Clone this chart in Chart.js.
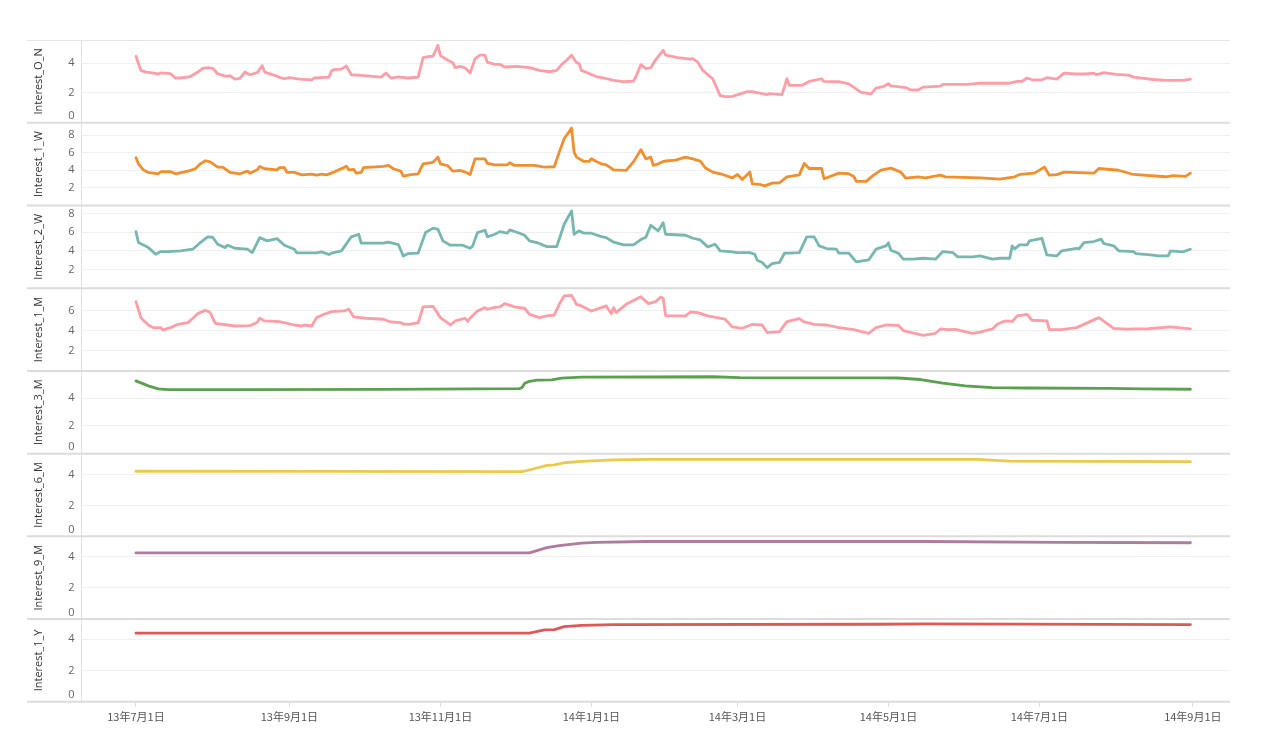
<!DOCTYPE html>
<html>
<head>
<meta charset="utf-8">
<title>Interest</title>
<script src="https://cdn.jsdelivr.net/npm/chart.js@4.4.1/dist/chart.umd.min.js"></script>
<style>
    html, body { margin: 0; padding: 0; background: #fff; }
    #contenedor { width: 1264px; height: 748px; position: relative; }
</style>
</head>
<body>
<div id="contenedor"><canvas id="grafica"></canvas></div>
<script>
// dias contados desde 2013-07-01
const fechaInicio = '2013-07-01';
const tickFechas = ['2013-07-01', '2013-09-01', '2013-11-01', '2014-01-01', '2014-03-01', '2014-05-01', '2014-07-01', '2014-09-01'];
const tickEtiquetas = ['13年7月1日', '13年9月1日', '13年11月1日', '14年1月1日', '14年3月1日', '14年5月1日', '14年7月1日', '14年9月1日'];

const nombres = ['Interest_O_N', 'Interest_1_W', 'Interest_2_W', 'Interest_1_M', 'Interest_3_M', 'Interest_6_M', 'Interest_9_M', 'Interest_1_Y'];

const onDias = [0,1,2,4,5,9,10,14,16,18,22,25,27,29,31,33,36,38,40,42,44,46,49,51,52,56,58,60,62,66,71,72,78,79,80,83,85,87,91,99,101,103,106,110,114,116,118,120,122,123,126,128,129,131,133,135,137,139,141,142,145,147,149,154,159,163,167,170,172,174,176,178,179,180,184,186,189,193,197,201,202,204,206,208,210,213,214,219,224,225,227,229,233,236,238,241,247,249,255,256,261,263,264,269,272,274,277,278,284,288,293,297,299,302,304,305,311,313,316,318,325,326,336,341,353,356,358,360,362,366,368,372,375,380,384,387,388,391,396,401,403,411,416,423,426];
const onValores = [4.46,3.97,3.51,3.40,3.38,3.27,3.34,3.29,3.00,3.00,3.10,3.40,3.65,3.69,3.65,3.29,3.13,3.15,2.93,2.97,3.40,3.22,3.36,3.83,3.40,3.18,3.04,2.95,3.02,2.93,2.88,3.00,3.06,3.47,3.56,3.60,3.81,3.22,3.18,3.06,3.33,3.00,3.08,3.00,3.06,4.37,4.43,4.46,5.20,4.50,4.19,4.03,3.69,3.78,3.67,3.33,4.30,4.53,4.53,4.05,3.92,3.92,3.74,3.78,3.69,3.51,3.42,3.51,3.92,4.19,4.53,4.03,3.97,3.51,3.24,3.10,3.00,2.84,2.75,2.79,3.10,3.90,3.63,3.69,4.24,4.86,4.53,4.37,4.26,4.30,4.06,3.51,2.95,1.82,1.75,1.77,2.09,2.09,1.89,1.95,1.89,2.95,2.50,2.50,2.77,2.84,2.95,2.77,2.75,2.61,2.03,1.94,2.32,2.43,2.61,2.47,2.36,2.20,2.20,2.39,2.45,2.57,2.57,2.65,2.65,2.77,2.77,3.00,2.88,2.88,3.02,2.93,3.33,3.27,3.27,3.33,3.22,3.36,3.24,3.20,3.06,2.90,2.84,2.84,2.93];

const w1Dias = [0,1,3,5,9,10,14,16,21,24,26,28,30,33,35,38,42,45,46,49,50,52,57,58,60,61,64,67,71,73,75,77,80,84,85,86,88,89,91,92,100,102,104,107,108,111,114,116,120,122,123,126,128,131,133,135,137,141,142,145,150,151,153,161,165,169,171,173,176,177,178,181,183,184,186,188,190,193,198,201,204,206,208,209,211,213,214,218,222,225,228,230,233,237,241,243,245,248,249,252,254,257,260,263,268,270,272,277,278,284,288,290,291,295,298,301,305,309,311,316,319,325,327,341,349,355,357,363,365,367,369,372,375,387,389,397,403,416,419,424,426];
const w1Valores = [5.42,4.73,4.05,3.75,3.60,3.83,3.83,3.60,3.90,4.17,4.73,5.08,4.95,4.36,4.36,3.75,3.60,3.90,3.67,4.05,4.43,4.17,4.05,4.30,4.30,3.75,3.75,3.48,3.56,3.45,3.56,3.48,3.79,4.30,4.47,4.05,4.10,3.67,3.75,4.30,4.43,4.55,4.17,3.90,3.33,3.50,3.60,4.73,4.89,5.49,4.73,4.51,3.90,3.98,3.79,3.52,5.30,5.30,4.77,4.62,4.62,4.85,4.55,4.55,4.36,4.40,6.06,7.58,8.79,6.06,5.49,5.00,5.00,5.30,5.00,4.73,4.62,4.05,3.98,4.95,6.33,5.30,5.49,4.55,4.73,5.00,5.05,5.15,5.49,5.30,5.04,4.28,3.79,3.52,3.14,3.52,2.95,3.79,2.46,2.39,2.23,2.54,2.58,3.25,3.48,4.78,4.20,4.20,3.03,3.67,3.60,3.30,2.73,2.73,3.44,4.01,4.24,3.79,3.10,3.25,3.14,3.44,3.25,3.14,3.00,3.25,3.52,3.67,4.01,4.36,3.44,3.50,3.79,3.67,4.20,4.00,3.52,3.26,3.40,3.30,3.67];

const w2Dias = [0,1,5,8,10,13,18,23,26,29,31,33,36,37,40,45,47,50,53,57,60,64,65,73,75,78,79,83,87,90,91,100,102,106,108,110,114,117,120,122,124,127,132,135,136,138,141,142,145,147,150,151,155,157,159,162,166,170,171,173,176,177,179,181,184,188,190,193,197,201,204,206,208,211,213,214,222,225,228,231,234,236,240,243,248,250,251,253,255,257,260,262,264,268,271,274,276,279,283,284,288,291,296,299,303,304,305,308,310,314,318,323,326,330,332,338,341,346,349,353,354,355,357,360,361,366,368,372,374,380,381,383,387,390,391,395,397,403,404,410,413,417,418,423,426];
const w2Valores = [6.05,4.88,4.34,3.63,3.92,3.92,4.00,4.17,4.88,5.49,5.45,4.70,4.34,4.60,4.27,4.17,3.81,5.41,5.06,5.30,4.60,4.17,3.78,3.78,3.88,3.60,3.75,3.99,5.49,5.77,4.81,4.81,4.92,4.67,3.45,3.70,3.75,5.95,6.42,6.30,5.06,4.60,4.60,4.27,4.50,5.95,6.20,5.49,5.77,6.05,5.88,6.24,5.88,5.66,5.06,4.88,4.45,4.45,5.24,6.84,8.27,5.77,6.13,5.88,5.88,5.52,5.41,4.92,4.64,4.64,5.20,5.45,6.73,6.13,7.00,5.77,5.66,5.34,5.16,4.42,4.70,3.99,3.92,3.81,3.81,3.63,2.99,2.75,2.20,2.63,2.75,3.74,3.74,3.81,5.49,5.49,4.53,4.24,4.17,3.74,3.74,2.81,3.02,4.17,4.53,4.85,4.06,3.74,3.10,3.10,3.20,3.10,3.92,3.81,3.35,3.35,3.45,3.10,3.20,3.20,4.53,4.20,4.63,4.63,5.06,5.34,3.56,3.45,4.00,4.27,4.20,4.88,4.99,5.24,4.78,4.53,4.00,3.92,3.70,3.56,3.45,3.45,4.00,3.88,4.17];

const m1Dias = [0,2,3,5,7,10,11,14,17,21,23,25,28,30,32,37,40,46,49,50,52,58,64,67,68,71,73,76,79,84,86,88,93,100,103,107,108,110,114,116,120,123,127,129,133,134,135,138,141,142,145,147,149,153,157,159,163,166,169,171,173,176,178,180,184,188,190,192,193,194,198,204,207,210,212,213,214,222,224,227,231,238,241,245,249,253,255,260,263,268,270,274,279,284,290,296,299,303,308,310,318,323,325,328,331,338,341,346,348,351,354,356,360,362,368,369,374,380,389,395,400,409,418,426];
const m1Valores = [6.86,5.28,5.02,4.55,4.29,4.29,4.06,4.29,4.62,4.79,5.22,5.68,6.01,5.78,4.72,4.55,4.45,4.48,4.82,5.22,4.95,4.88,4.55,4.45,4.55,4.45,5.28,5.61,5.87,5.94,6.11,5.35,5.22,5.12,4.85,4.79,4.65,4.62,4.75,6.34,6.40,5.28,4.55,4.95,5.22,4.90,5.25,5.94,6.27,6.11,6.30,6.34,6.67,6.34,6.21,5.61,5.28,5.45,5.54,6.60,7.43,7.49,6.60,6.44,5.94,6.27,6.44,5.68,6.27,5.78,6.60,7.36,6.67,6.87,7.33,7.20,5.45,5.45,5.84,5.78,5.45,5.12,4.36,4.22,4.62,4.55,3.80,3.90,4.88,5.18,4.85,4.62,4.55,4.29,4.09,3.73,4.29,4.55,4.52,4.00,3.53,3.73,4.16,4.10,4.12,3.73,3.85,4.16,4.62,4.95,4.90,5.45,5.61,5.02,4.95,4.09,4.09,4.29,5.28,4.22,4.15,4.18,4.36,4.16];

const m3Dias = [0,5,9,13,40,100,155,156,157,159,162,168,172,180,233,244,253,300,308,317,326,335,346,360,393,407,426];
const m3Valores = [5.23,4.87,4.66,4.61,4.60,4.62,4.68,4.75,5.05,5.20,5.28,5.30,5.43,5.50,5.53,5.46,5.45,5.45,5.44,5.33,5.07,4.87,4.75,4.72,4.70,4.65,4.63];

const m6Dias = [0,80,156,160,166,169,173,180,193,206,340,353,426];
const m6Valores = [4.21,4.20,4.18,4.34,4.59,4.62,4.76,4.85,4.94,4.98,4.98,4.87,4.83];

const m9Dias = [0,159,163,166,171,180,186,206,320,373,426];
const m9Valores = [4.24,4.24,4.43,4.58,4.71,4.86,4.92,4.97,4.97,4.91,4.89];

const y1Dias = [0,159,165,169,173,180,193,300,319,426];
const y1Valores = [4.37,4.37,4.58,4.60,4.79,4.87,4.92,4.94,4.96,4.92];

const seriesDias = [onDias, w1Dias, w2Dias, m1Dias, m3Dias, m6Dias, m9Dias, y1Dias];
const seriesValores = [onValores, w1Valores, w2Valores, m1Valores, m3Valores, m6Valores, m9Valores, y1Valores];

// rango de cada panel
const ejeMaximos = [5.55, 9.4, 8.85, 8.2, 5.95, 5.35, 5.3, 5.27];
const mostrarCero = [true, false, false, false, true, true, true, true];
const colores = ['#ff9da7', '#f28e2b', '#76b7b2', '#ff9da7', '#59a14f', '#edc948', '#b07aa1', '#e15759'];

function diasDesde(fecha) {
    return Math.round((Date.parse(fecha) - Date.parse(fechaInicio)) / 86400000);
}

const tickDias = tickFechas.map(diasDesde);

const separadores = {
    id: 'separadores',
    beforeDatasetsDraw(chart) {
        const ctx = chart.ctx;
        const area = chart.chartArea;
        const ejesY = Object.values(chart.scales).filter(s => s.axis === 'y');
        ctx.save();
        ctx.strokeStyle = '#e6e6e6';
        ctx.lineWidth = 1;
        ctx.beginPath();
        ctx.moveTo(ejesY[0].left, area.top + 0.5);
        ctx.lineTo(area.right, area.top + 0.5);
        ctx.stroke();
        ctx.strokeStyle = '#dcdcdc';
        ctx.lineWidth = 2;
        ejesY.forEach(s => {
            ctx.beginPath();
            ctx.moveTo(s.left, s.bottom);
            ctx.lineTo(area.right, s.bottom);
            ctx.stroke();
        });
        ctx.restore();
    }
};

// un tick pegado al borde superior no se muestra
function tickVisible(valor, i) {
    return valor < ejeMaximos[i] - 0.3;
}

function crearEscalas() {
    const escalas = {
        x: {
            type: 'linear',
            bounds: 'data',
            min: -22,
            max: 442,
            border: { display: false },
            grid: { drawOnChartArea: false, color: '#dddddd', tickLength: 5 },
            afterBuildTicks: function(escala) {
                escala.ticks = tickDias.map(v => ({ value: v }));
            },
            ticks: {
                autoSkip: false,
                maxRotation: 0,
                padding: 3,
                color: '#555',
                font: { family: '"Noto Sans CJK SC"', size: 11 },
                callback: function(valor) {
                    const i = tickDias.indexOf(valor);
                    return i >= 0 ? tickEtiquetas[i] : '';
                }
            }
        }
    };
    nombres.forEach((nombre, i) => {
        escalas['y' + i] = {
            type: 'linear',
            position: 'left',
            stack: 'paneles',
            stackWeight: 1,
            weight: nombres.length - i,
            bounds: 'data',
            min: 0,
            max: ejeMaximos[i],
            border: { display: true, color: '#e3e3e3', width: 1 },
            grid: {
                drawTicks: false,
                color: function(ctx) {
                    if (!ctx.tick || ctx.tick.value === 0 || !tickVisible(ctx.tick.value, i)) {
                        return 'rgba(0,0,0,0)';
                    }
                    return '#f0f0f0';
                }
            },
            ticks: {
                stepSize: 2,
                includeBounds: false,
                autoSkip: false,
                padding: 7,
                color: '#666',
                font: { family: '"Open Sans"', size: 11 },
                callback: function(valor) {
                    if (valor === 0) {
                        return mostrarCero[i] ? ['0', ''] : '';
                    }
                    return tickVisible(valor, i) ? String(valor) : '';
                }
            },
            title: {
                display: true,
                text: nombre,
                color: '#333',
                font: { family: '"Open Sans"', size: 11 },
                padding: { top: 5, bottom: 16 }
            }
        };
    });
    return escalas;
}

function crearDatasets() {
    return nombres.map((nombre, i) => ({
        label: nombre,
        data: seriesDias[i].map((d, k) => ({ x: d, y: seriesValores[i][k] })),
        xAxisID: 'x',
        yAxisID: 'y' + i,
        borderColor: colores[i],
        backgroundColor: colores[i],
        borderWidth: 2.8,
        pointRadius: 0,
        tension: 0,
        borderJoinStyle: 'round',
        borderCapStyle: 'round',
        fill: false
    }));
}

document.addEventListener('DOMContentLoaded', function() {
    const ctx = document.getElementById('grafica').getContext('2d');
    window.graficaInteres = new Chart(ctx, {
        type: 'line',
        data: { datasets: crearDatasets() },
        options: {
            responsive: true,
            maintainAspectRatio: false,
            animation: false,
            devicePixelRatio: 1,
            layout: { padding: { left: 27, right: 34, top: 40, bottom: 22 } },
            plugins: {
                legend: { display: false },
                tooltip: { enabled: false }
            },
            scales: crearEscalas()
        },
        plugins: [separadores]
    });
});
</script>
</body>
</html>
